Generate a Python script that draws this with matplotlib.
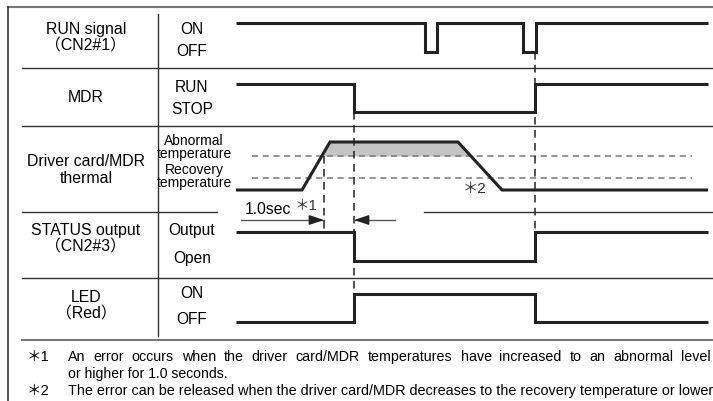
import numpy as np
import matplotlib
matplotlib.use("Agg")
import matplotlib.pyplot as plt

plt.rcParams['font.family'] = ['Liberation Sans', 'Noto Sans CJK JP', 'DejaVu Sans']

# time axis (diagram units, same as pixel columns)
t_start, t_end = 236, 708
t_over = 324      # temperature crosses abnormal level
t_err = 354       # error raised (1.0 sec later)
t_reset = 535     # RUN signal re-input after recovery

# RUN signal pulses (off intervals)
run_off = [(425, 437), (523, 536)]

# thermal curve
therm_t = [236, 302, 330, 458, 502, 708]
therm_v = [190, 190, 142, 142, 190, 190]
abn_level = 156
rec_level = 178

# signal levels (high, low) per row
run_lv = (23, 52)
mdr_lv = (84, 112)
stat_lv = (232, 261)
led_lv = (294, 322)

row_labels = ["RUN signal\n（CN2#1）", "MDR", "Driver card/MDR\nthermal",
              "STATUS output\n（CN2#3）", "LED\n（Red）"]
row_label_y = [38, 98, 170, 239, 306]
state_labels = [("ON", 29), ("OFF", 52), ("RUN", 87), ("STOP", 110),
                ("Output", 230), ("Open", 258), ("ON", 294), ("OFF", 320)]
temp_labels = [("Abnormal", 141), ("temperature", 154), ("Recovery", 170), ("temperature", 183)]
row_seps = [68, 126, 278]

# (mark, text, y, justified, size)
notes = [("＊1", "An error occurs when the driver card/MDR temperatures have increased to an abnormal level", 357, True, 10.3),
         ("", "or higher for 1.0 seconds.", 374, False, 10.1),
         ("＊2", "The error can be released when the driver card/MDR decreases to the recovery temperature or lower", 391, False, 10.35)]

fig = plt.figure(figsize=(7.13, 4.01), dpi=100)
ax = fig.add_axes([0, 0, 1, 1])
ax.set_xlim(0, 713)
ax.set_ylim(401, 0)
ax.axis('off')

lk = dict(color='#222222', lw=2.2, solid_joinstyle='miter', solid_capstyle='butt')
grid_c = '#333333'

# frame
ax.plot([8, 713], [7, 7], color='#777777', lw=1.5)
ax.plot([8, 8], [7, 401], color='#333333', lw=1.2)
ax.plot([158, 158], [14, 336], color='#333333', lw=1.0)
for y in row_seps:
    ax.plot([22, 713], [y, y], color=grid_c, lw=1.0)
ax.plot([22, 217], [212, 212], color=grid_c, lw=1.0)
ax.plot([424, 713], [212, 212], color=grid_c, lw=1.0)
ax.plot([22, 713], [340, 340], color='#777777', lw=1.5)

# labels
for txt, y in zip(row_labels, row_label_y):
    ax.text(86, y, txt, ha='center', va='center', fontsize=11.4, linespacing=1.12)
for txt, y in state_labels:
    ax.text(192, y, txt, ha='center', va='center', fontsize=11.2)
for txt, y in temp_labels:
    ax.text(194, y, txt, ha='center', va='center', fontsize=10)

# RUN signal
xs, ys = [t_start], [run_lv[0]]
for a, b in run_off:
    xs += [a, a, b, b]
    ys += [run_lv[0], run_lv[1], run_lv[1], run_lv[0]]
xs.append(t_end); ys.append(run_lv[0])
ax.plot(xs, ys, **lk)

# MDR
ax.plot([t_start, t_err, t_err, t_reset, t_reset, t_end],
        [mdr_lv[0], mdr_lv[0], mdr_lv[1], mdr_lv[1], mdr_lv[0], mdr_lv[0]], **lk)

# thermal
tt = np.array(therm_t, float)
tv = np.array(therm_v, float)
fine_t = np.linspace(tt[0], tt[-1], 2000)
fine_v = np.interp(fine_t, tt, tv)
ax.fill_between(fine_t, fine_v, abn_level, where=fine_v <= abn_level,
                color='#c4c4c4', lw=0)
ax.plot([252, 692], [abn_level, abn_level], color='#777777', lw=1.1, ls=(0, (4, 3)))
ax.plot([252, 692], [rec_level, rec_level], color='#777777', lw=1.1, ls=(0, (4, 3)))
ax.plot(tt, tv, **lk)
ax.text(474, 189, "＊2", ha='center', va='center', fontsize=11, color='#333333')

# STATUS output
ax.plot([t_start, t_err, t_err, t_reset, t_reset, t_end],
        [stat_lv[0], stat_lv[0], stat_lv[1], stat_lv[1], stat_lv[0], stat_lv[0]], **lk)

# LED
ax.plot([t_start, t_err, t_err, t_reset, t_reset, t_end],
        [led_lv[1], led_lv[1], led_lv[0], led_lv[0], led_lv[1], led_lv[1]], **lk)

# vertical guides
dk = dict(color='#222222', lw=1.1, ls=(0, (5, 3.5)))
ax.plot([t_over, t_over], [abn_level, stat_lv[0]], **dk)
ax.plot([t_err, t_err], [mdr_lv[1], led_lv[1]], **dk)
ax.plot([t_reset, t_reset], [run_lv[1], stat_lv[0]], **dk)

# 1.0 sec annotation
ax.plot([241, t_over], [220, 220], color='#555555', lw=1.0)
ax.plot([t_err, 395], [220, 220], color='#555555', lw=1.0)
ax.annotate('', xy=(t_over, 220), xytext=(t_over - 14, 220),
            arrowprops=dict(arrowstyle='-|>,head_length=0.9,head_width=0.3', color='#222222', lw=1, shrinkA=0, shrinkB=0))
ax.annotate('', xy=(t_err, 220), xytext=(t_err + 14, 220),
            arrowprops=dict(arrowstyle='-|>,head_length=0.9,head_width=0.3', color='#222222', lw=1, shrinkA=0, shrinkB=0))
ax.text(245, 210, "1.0sec", ha='left', va='center', fontsize=11.3)
ax.text(295, 206, "＊1", ha='left', va='center', fontsize=10.5, color='#333333')

# footnotes
renderer = fig.canvas.get_renderer()
x0, x1 = 68, 711
for mark, txt, y, just, fs in notes:
    ax.text(27, y, mark, ha='left', va='center', fontsize=10.5)
    if not just:
        ax.text(x0, y, txt, ha='left', va='center', fontsize=fs)
        continue
    # justified line: spread words across the full width
    words = txt.split()
    arts = [ax.text(0, y, w, ha='left', va='center', fontsize=fs) for w in words]
    widths = [a.get_window_extent(renderer).width for a in arts]
    gap = (x1 - x0 - sum(widths)) / (len(words) - 1)
    pos = x0
    for a, w in zip(arts, widths):
        a.set_x(pos)
        pos += w + gap

fig.savefig("out.png", dpi=100)
